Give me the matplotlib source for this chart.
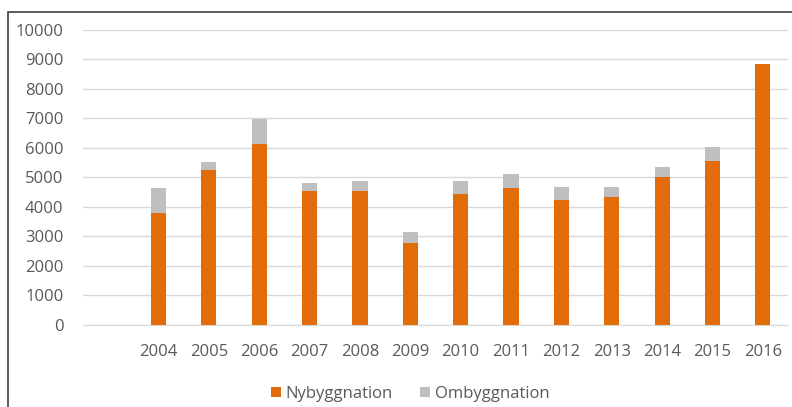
import matplotlib
matplotlib.use("Agg")
import matplotlib.pyplot as plt
from matplotlib.patches import Rectangle

categories = ["", "2004", "2005", "2006", "2007", "2008", "2009", "2010",
              "2011", "2012", "2013", "2014", "2015", "2016"]
nybyggnation = [0, 3800, 5250, 6120, 4540, 4540, 2780, 4450, 4650, 4220, 4320, 5010, 5560, 8820]
ombyggnation = [0, 850, 270, 850, 280, 350, 370, 420, 450, 450, 360, 330, 460, 0]
yticks = [0, 1000, 2000, 3000, 4000, 5000, 6000, 7000, 8000, 9000, 10000]

plt.rcParams['font.family'] = ['Open Sans', 'DejaVu Sans']
text_color = "#595959"

fig = plt.figure(figsize=(7.92, 4.07), dpi=100)
ax = fig.add_axes([83/792, 1-325/407, (788-83)/792, (325-29.5)/407])

x = list(range(len(categories)))
ax.bar(x, nybyggnation, width=0.3, color="#E36C0A", label="Nybyggnation", zorder=3)
ax.bar(x, ombyggnation, width=0.3, bottom=nybyggnation, color="#BFBFBF",
       label="Ombyggnation", zorder=3)

ax.set_xlim(-0.5, len(categories) - 0.5)
ax.set_ylim(0, 10000)
ax.set_yticks(yticks)
ax.set_yticklabels([str(v) for v in yticks], fontsize=12, color=text_color)
ax.set_xticks(x)
ax.set_xticklabels(categories, fontsize=12, color=text_color)
ax.tick_params(axis='both', length=0)
ax.tick_params(axis='y', pad=14)
ax.tick_params(axis='x', pad=14)
ax.grid(axis='y', color="#D9D9D9", linewidth=1, zorder=0)
for s in ["top", "right", "left"]:
    ax.spines[s].set_visible(False)
ax.spines["bottom"].set_color("#D9D9D9")
ax.spines["bottom"].set_zorder(1)

leg = fig.legend(loc="center", bbox_to_anchor=(410/792, 1-394/407), ncol=2, frameon=False,
                 fontsize=12, handlelength=0.6, handleheight=0.6, handletextpad=0.3,
                 columnspacing=1.6)
for t in leg.get_texts():
    t.set_color(text_color)

fig.patches.append(Rectangle((8/792, -0.1), 1.0, 1 - 11.5/407 + 0.1, transform=fig.transFigure,
                             fill=False, edgecolor="#404040", linewidth=1.2))

fig.savefig("out.png", dpi=100)
